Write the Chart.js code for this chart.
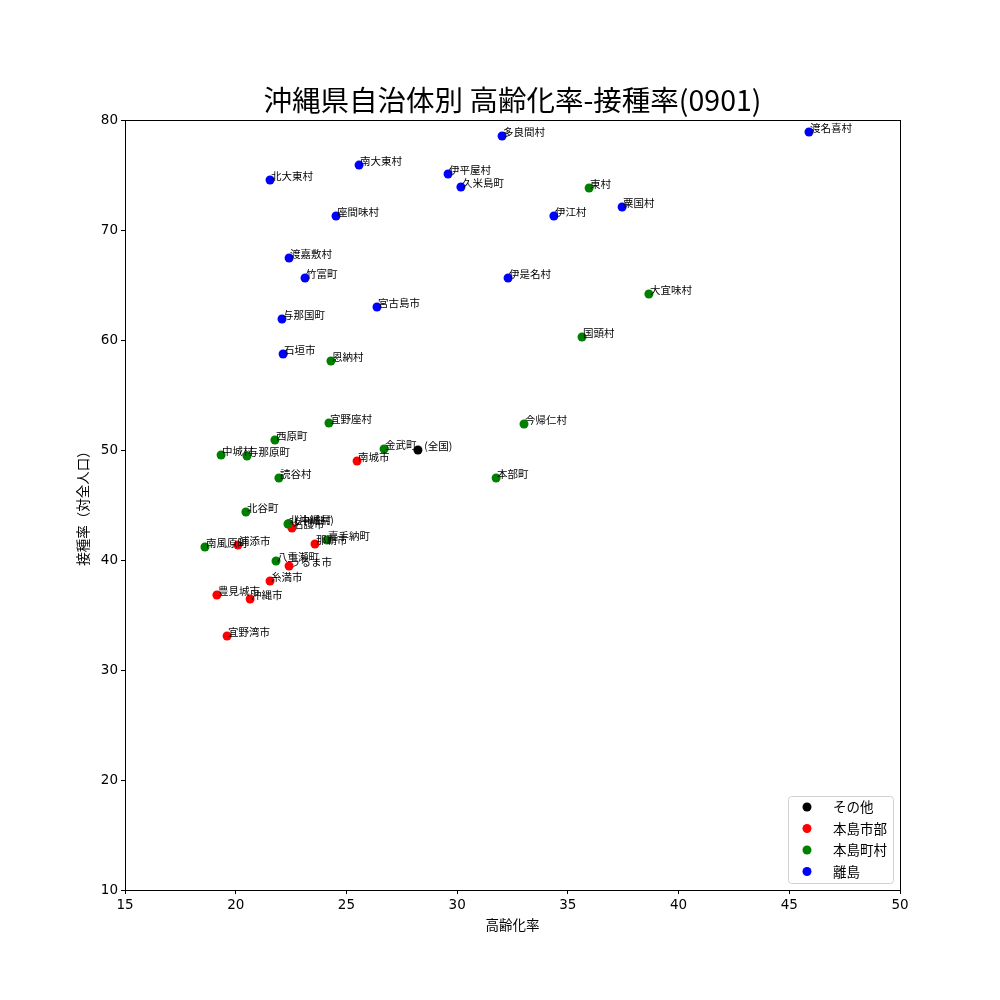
<!DOCTYPE html>
<html><head><meta charset="utf-8">
<script src="https://cdn.jsdelivr.net/npm/chart.js@4/dist/chart.umd.min.js"></script>
<style>html,body{margin:0;padding:0;background:#fff}#wrap{width:1000px;height:1000px}</style>
</head><body><div id="wrap"><canvas id="c" width="1000" height="1000"></canvas></div>
<script>
const FONT = '"Noto Sans CJK JP", "DejaVu Sans", sans-serif';
const TICKFONT = '"DejaVu Sans", sans-serif';
const titleText = '沖縄県自治体別 高齢化率-接種率(0901)';
const xTitle = '高齢化率';
const yTitle = '接種率（対全人口）';
const seriesLabels = ['その他', '本島市部', '本島町村', '離島'];
const seriesColors = ['#000000', '#ff0000', '#008000', '#0000ff'];

const otherNames = [' (全国)', ' (沖縄県)'];
const otherX = [28.23, 22.4];
const otherY = [50.0, 43.3];

const cityNames = ['南城市', '名護市', '那覇市', '浦添市', 'うるま市', '糸満市', '豊見城市', '沖縄市', '宜野湾市'];
const cityX = [25.48, 22.54, 23.58, 20.10, 22.41, 21.55, 19.15, 20.65, 19.61];
const cityY = [49.0, 42.91, 41.45, 41.36, 39.45, 38.09, 36.82, 36.45, 33.09];

const townNames = ['東村', '大宜味村', '国頭村', '恩納村', '今帰仁村', '宜野座村', '西原町', '金武町', '中城村', '与那原町', '本部町', '読谷村', '北谷町', '北中城村', '嘉手納町', '南風原町', '八重瀬町'];
const townX = [35.96, 38.66, 35.64, 24.30, 33.02, 24.21, 21.77, 26.70, 19.34, 20.51, 31.76, 21.95, 20.46, 22.36, 24.12, 18.61, 21.82];
const townY = [73.82, 64.18, 60.27, 58.09, 52.36, 52.45, 50.91, 50.09, 49.55, 49.45, 47.45, 47.45, 44.36, 43.27, 41.82, 41.18, 39.91];

const islandNames = ['渡名喜村', '多良間村', '南大東村', '北大東村', '伊平屋村', '久米島町', '粟国村', '伊江村', '座間味村', '渡嘉敷村', '竹富町', '伊是名村', '宮古島市', '与那国町', '石垣市'];
const islandX = [45.89, 32.03, 25.57, 21.55, 29.59, 30.17, 37.45, 34.37, 24.53, 22.41, 23.13, 32.30, 26.38, 22.09, 22.14];
const islandY = [78.91, 78.55, 75.9, 74.55, 75.09, 73.91, 72.09, 71.27, 71.27, 67.45, 65.64, 65.64, 63.0, 61.91, 58.73];

const xTicks = [15, 20, 25, 30, 35, 40, 45, 50];
const yTicks = [10, 20, 30, 40, 50, 60, 70, 80];

const groups = [
  [otherNames, otherX, otherY],
  [cityNames, cityX, cityY],
  [townNames, townX, townY],
  [islandNames, islandX, islandY]
];

const datasets = groups.map((g, i) => ({
  label: seriesLabels[i],
  order: groups.length - i,
  data: g[1].map((x, j) => ({x: x, y: g[2][j], name: g[0][j]})),
  backgroundColor: seriesColors[i],
  borderColor: seriesColors[i],
  borderWidth: 0,
  pointRadius: 4.5,
  pointHoverRadius: 4.5
}));

const framePlugin = {
  id: 'frame',
  afterDatasetsDraw(chart) {
    const ctx = chart.ctx, a = chart.chartArea;
    ctx.save();
    // point labels
    ctx.fillStyle = '#000';
    ctx.font = '10.5px ' + FONT;
    ctx.textAlign = 'left';
    ctx.textBaseline = 'alphabetic';
    chart.data.datasets.forEach((ds, i) => {
      const meta = chart.getDatasetMeta(i);
      meta.data.forEach((el, j) => {
        const name = ds.data[j].name.replace(/^ /, '\u2002');
        ctx.fillText(name, el.x + 1, el.y);
      });
    });
    // frame
    ctx.strokeStyle = '#000';
    ctx.lineWidth = 1;
    ctx.strokeRect(Math.round(a.left) + 0.5, Math.round(a.top) + 0.5, Math.round(a.right - a.left), Math.round(a.bottom - a.top));
    // title
    ctx.font = '28.5px ' + FONT;
    ctx.textAlign = 'center';
    ctx.textBaseline = 'alphabetic';
    ctx.fillText(titleText, (a.left + a.right) / 2, 111);
    // axis titles
    ctx.font = '13.5px ' + FONT;
    ctx.fillText(xTitle, (a.left + a.right) / 2, 930);
    ctx.save();
    ctx.translate(88, (a.top + a.bottom) / 2);
    ctx.rotate(-Math.PI / 2);
    ctx.fillText(yTitle, 0, 0);
    ctx.restore();
    // legend
    const lx = 788, ly = 796, lw = 105, lh = 87;
    ctx.fillStyle = 'rgba(255,255,255,0.8)';
    ctx.strokeStyle = '#d0d0d0';
    ctx.beginPath();
    ctx.roundRect(lx + 0.5, ly + 0.5, lw, lh, 3);
    ctx.fill();
    ctx.stroke();
    ctx.font = '13.5px ' + FONT;
    ctx.textAlign = 'left';
    ctx.textBaseline = 'middle';
    seriesLabels.forEach((lab, i) => {
      const yy = ly + 11 + i * 21.5;
      ctx.fillStyle = seriesColors[i];
      ctx.beginPath();
      ctx.arc(lx + 19, yy, 4.5, 0, Math.PI * 2);
      ctx.fill();
      ctx.fillStyle = '#000';
      ctx.fillText(lab, lx + 45, yy);
    });
    ctx.restore();
  }
};

new Chart(document.getElementById('c'), {
  type: 'scatter',
  data: { datasets: datasets },
  options: {
    responsive: false,
    animation: false,
    devicePixelRatio: 1,
    layout: { padding: { top: 120, right: 100, left: 0, bottom: 0 } },
    plugins: { legend: { display: false }, title: { display: false }, tooltip: { enabled: false } },
    scales: {
      x: {
        type: 'linear', min: 15, max: 50,
        afterBuildTicks: s => { s.ticks = xTicks.map(v => ({value: v})); },
        afterFit: s => { s.height = 110; },
        grid: { display: true, drawOnChartArea: false, drawTicks: true, tickLength: 4, color: '#000' },
        border: { display: true, color: '#000' },
        ticks: { color: '#000', font: { family: TICKFONT, size: 13.5 }, padding: 3, maxRotation: 0 }
      },
      y: {
        type: 'linear', min: 10, max: 80,
        afterBuildTicks: s => { s.ticks = yTicks.map(v => ({value: v})); },
        afterFit: s => { s.width = 125; },
        grid: { display: true, drawOnChartArea: false, drawTicks: true, tickLength: 4, color: '#000' },
        border: { display: true, color: '#000' },
        ticks: { color: '#000', font: { family: TICKFONT, size: 13.5 }, padding: 3 }
      }
    }
  },
  plugins: [framePlugin]
});
</script></body></html>
